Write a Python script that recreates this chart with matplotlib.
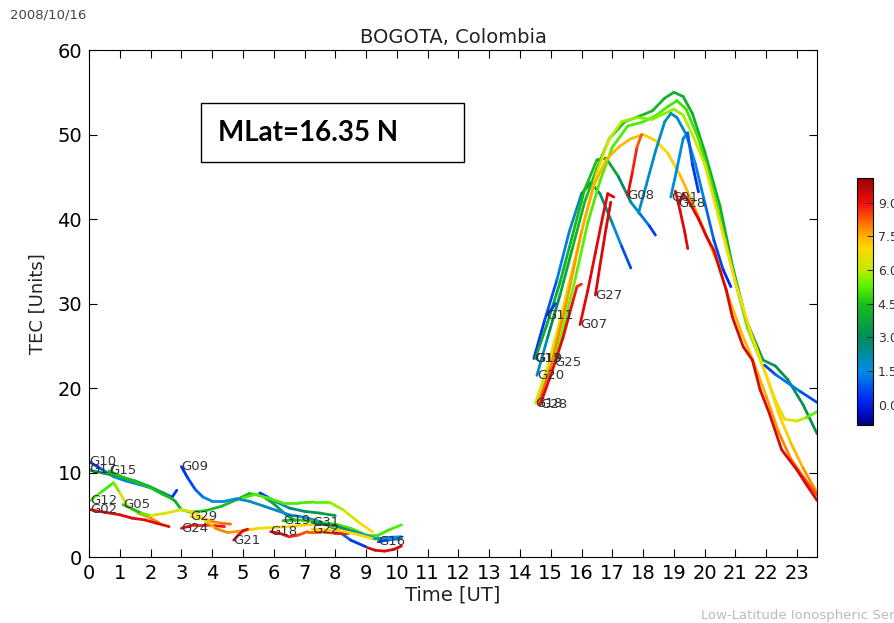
import numpy as np
import matplotlib
matplotlib.use("Agg")
import matplotlib.pyplot as plt
from matplotlib.collections import LineCollection
from matplotlib.colors import LinearSegmentedColormap, Normalize
from matplotlib.cm import ScalarMappable
from matplotlib.patches import Rectangle

# ---- texts / axes ----
date_text = "2008/10/16"
station = "BOGOTA, Colombia"
mlat_text = "MLat=16.35 N"
credit_text = "Low-Latitude Ionospheric Sensor Network (LISN)"
hour_ticks = list(range(24))
tec_ticks = [0, 10, 20, 30, 40, 50, 60]
cbar_ticks = [0.0, 1.5, 3.0, 4.5, 6.0, 7.5, 9.0]

# ---- satellite tracks: time [UT], TEC, colour value ----
prn_names = [
    # night
    "G10", "G17", "G15", "G12", "G02", "G05", "G09", "", "G24", "G29",
    "G21", "", "G18", "G19", "G31", "G22", "G16", "",
    # day
    "G13", "G19", "G20", "G25", "G18", "", "G08", "G07", "G27", "G28",
    "G11", "", "G01", "G28", "", "",
]
prn_hours = [
    [0.0, 0.4, 0.8, 1.2, 1.6, 2.0, 2.4, 2.7, 2.85],
    [0.0, 0.5, 1.0, 1.5, 2.0, 2.5, 2.8, 3.0, 3.3, 3.8, 4.3, 4.8, 5.2, 5.6, 6.0, 6.4, 6.7],
    [0.65, 1.0, 1.5, 2.0, 2.4, 2.7],
    [0.05, 0.4, 0.8, 1.0, 1.25, 1.6, 2.0, 2.3],
    [0.05, 0.5, 1.0, 1.4, 1.8, 2.2, 2.6],
    [1.1, 1.4, 1.7, 2.0, 2.5, 3.0, 3.4, 3.7, 4.0, 4.3, 4.6],
    [3.0, 3.2, 3.45, 3.7, 4.0, 4.4, 4.8, 5.2, 5.7, 6.1, 6.5, 7.0, 7.5, 8.0, 8.5, 9.0],
    [5.55, 5.8, 6.1, 6.5, 7.0, 7.5, 8.0],
    [3.0, 3.4, 3.8, 4.1, 4.4],
    [3.3, 3.7, 4.1, 4.5, 5.0, 5.5, 6.0, 6.5, 7.0, 7.5, 8.0, 8.5, 9.0, 9.4],
    [4.7, 4.85, 5.0, 5.15],
    [5.0, 5.4, 5.8, 6.3, 6.8, 7.3, 7.8, 8.25, 8.8, 9.2],
    [5.9, 6.2, 6.5, 6.8, 7.1, 7.5, 8.0, 8.4],
    [6.3, 6.7, 7.1, 7.5, 8.0, 8.5, 9.0, 9.4, 9.8, 10.15],
    [7.25, 7.6, 8.0, 8.4, 8.8, 9.2, 9.6, 10.15],
    [7.25, 7.7, 8.2, 8.7, 9.2],
    [9.4, 9.7, 10.15],
    [9.05, 9.3, 9.6, 9.9, 10.15],
    [14.45, 14.8, 15.2, 15.6, 16.0, 16.3, 16.6, 17.0, 17.3, 17.6],
    [14.5, 14.9, 15.3, 15.7, 16.1, 16.5, 16.8, 17.2, 17.6, 17.9, 18.2, 18.4],
    [14.55, 14.9, 15.3, 15.7, 16.1, 16.5, 16.9, 17.4, 17.9, 18.3, 18.7, 19.0, 19.3, 19.6, 20.0,
     20.5, 20.9, 21.35, 21.9, 22.3, 22.7, 23.2, 23.65],
    [15.1, 15.4, 15.8, 16.2, 16.6, 17.0, 17.5, 18.0, 18.4, 18.8, 19.1, 19.4, 19.8, 20.2, 20.6,
     21.0, 21.4, 21.9, 22.3, 22.6, 23.0, 23.3, 23.65],
    [14.5, 14.9, 15.3, 15.7, 16.1, 16.5, 16.9, 17.3, 17.8, 18.3, 18.7, 19.0, 19.3, 19.6, 20.0,
     20.5, 21.0, 21.5, 22.0, 22.4, 22.8, 23.2, 23.65],
    [14.6, 15.0, 15.5, 16.0, 16.4, 16.8, 17.2, 17.6, 18.0, 18.4, 18.8, 19.2, 19.6, 20.0, 20.4,
     20.8, 21.2, 21.6, 22.0, 22.4, 22.8, 23.2, 23.65],
    [17.5, 17.65, 17.8, 17.95],
    [15.95, 16.2, 16.45, 16.7, 16.85, 17.05],
    [16.45, 16.6, 16.8, 16.95],
    [14.65, 15.0, 15.4, 15.7, 15.85, 16.0],
    [14.85, 15.0, 15.15],
    [17.85, 18.1, 18.4, 18.7, 18.9, 19.1, 19.4, 19.7, 20.0, 20.3, 20.6, 20.85],
    [18.9, 19.1, 19.3, 19.45, 19.6, 19.8],
    [19.15, 19.3, 19.5, 19.8, 20.05, 20.3, 20.7, 20.9, 21.25, 21.55, 21.8, 22.1, 22.5, 23.0, 23.3, 23.65],
    [19.05, 19.2, 19.35, 19.45],
    [21.95, 22.3, 22.7, 23.1, 23.65],
]
prn_tec = [
    [11.3, 10.4, 9.5, 9.0, 8.6, 8.2, 7.6, 7.1, 7.9],
    [10.3, 9.9, 9.5, 9.0, 8.3, 7.4, 6.6, 5.6, 5.3, 5.5, 6.0, 6.8, 7.5, 7.3, 6.3, 5.0, 4.3],
    [10.2, 9.6, 8.9, 8.2, 7.4, 6.9],
    [6.7, 7.7, 8.8, 7.6, 6.0, 5.2, 4.6, 4.0],
    [5.6, 5.3, 5.0, 4.6, 4.4, 4.0, 3.6],
    [6.2, 5.7, 5.2, 4.9, 5.2, 5.6, 5.3, 4.6, 4.2, 4.0, 3.9],
    [10.7, 9.4, 8.0, 7.1, 6.6, 6.6, 6.9, 6.6, 6.0, 5.5, 5.0, 4.7, 4.2, 3.3, 2.0, 1.2],
    [7.6, 7.1, 6.5, 5.8, 5.4, 5.2, 4.9],
    [3.4, 3.8, 3.8, 3.7, 3.6],
    [4.8, 4.6, 3.4, 2.9, 3.1, 3.4, 3.5, 3.6, 3.8, 3.9, 3.6, 3.0, 2.4, 2.0],
    [2.0, 2.6, 3.1, 3.3],
    [7.0, 7.4, 7.0, 6.4, 6.4, 6.5, 6.5, 5.6, 4.0, 3.0],
    [3.0, 2.8, 2.4, 2.6, 3.0, 3.0, 2.8, 2.8],
    [4.3, 4.4, 4.3, 4.1, 3.9, 3.4, 2.6, 2.6, 3.3, 3.8],
    [4.1, 3.9, 3.7, 3.2, 2.8, 2.3, 2.3, 2.4],
    [3.3, 3.2, 3.1, 2.7, 2.2],
    [1.8, 2.0, 2.2],
    [1.1, 0.8, 0.7, 0.9, 1.3],
    [23.5, 28.0, 32.8, 38.5, 43.0, 44.3, 43.0, 39.5, 36.8, 34.2],
    [23.5, 27.8, 32.5, 38.0, 43.5, 47.0, 47.2, 45.0, 42.0, 40.6, 39.2, 38.1],
    [21.5, 26.0, 31.0, 36.5, 42.0, 46.0, 49.5, 51.5, 52.2, 52.8, 54.3, 55.0, 54.5, 52.5, 48.0,
     41.5, 34.5, 28.0, 23.3, 22.6, 21.0, 18.0, 14.6],
    [23.0, 27.0, 33.0, 39.5, 44.5, 48.5, 51.0, 51.5, 52.2, 53.3, 54.0, 53.0, 49.5, 44.5, 38.5,
     32.5, 27.0, 22.5, 18.5, 16.3, 16.1, 16.5, 17.2],
    [18.2, 22.5, 28.0, 34.0, 40.0, 45.5, 49.5, 51.5, 52.0, 51.8, 52.5, 53.0, 52.3, 50.0, 46.5,
     39.5, 32.5, 26.5, 21.5, 17.0, 13.5, 10.5, 7.6],
    [18.2, 22.5, 30.0, 38.5, 44.0, 47.0, 48.5, 49.5, 50.0, 49.3, 47.8, 45.2, 42.0, 38.5, 35.0,
     30.5, 26.5, 23.0, 19.0, 14.8, 11.6, 9.5, 7.3],
    [42.8, 45.5, 48.5, 50.0],
    [27.5, 31.5, 36.0, 40.5, 43.0, 42.6],
    [31.0, 34.5, 39.0, 42.0],
    [18.0, 21.5, 26.0, 30.0, 32.0, 32.3],
    [28.6, 29.2, 30.0],
    [40.7, 44.0, 48.0, 51.5, 52.5, 52.0, 50.0, 46.5, 42.0, 37.5, 34.0, 32.0],
    [42.6, 46.0, 49.5, 50.2, 46.5, 43.2],
    [41.8, 43.0, 42.0, 40.0, 38.0, 36.3, 31.6, 28.4, 24.9, 23.3, 19.8, 17.0, 12.7, 10.3, 8.6, 6.7],
    [43.3, 41.0, 38.5, 36.5],
    [22.7, 21.6, 20.6, 19.6, 18.3],
]
prn_value = [
    [0.2, 0.7, 1.2, 1.6, 1.8, 1.6, 1.2, 0.6, 0.1],
    [3.8, 3.8, 3.7, 3.6, 3.6, 3.6, 3.8, 4.2, 4.6, 4.6, 4.4, 4.2, 4.2, 4.0, 3.8, 3.6, 3.6],
    [4.6, 4.6, 4.5, 4.5, 4.4, 4.4],
    [5.4, 5.2, 5.0, 6.0, 6.8, 7.6, 7.8, 8.0],
    [9.2, 9.2, 9.2, 9.2, 9.2, 9.2, 9.2],
    [4.8, 4.6, 4.4, 6.2, 6.4, 6.4, 6.6, 7.2, 7.8, 8.0, 8.2],
    [0.1, 0.4, 0.8, 1.3, 1.6, 1.6, 1.6, 1.8, 2.0, 1.8, 1.5, 1.6, 1.8, 1.3, 0.6, 0.1],
    [0.1, 0.8, 1.6, 2.4, 3.0, 3.4, 3.6],
    [9.2, 9.0, 8.6, 8.8, 9.0],
    [6.5, 7.0, 7.8, 8.0, 7.5, 6.8, 6.8, 6.8, 7.0, 7.2, 7.2, 7.0, 6.8, 6.5],
    [9.2, 9.2, 9.2, 9.2],
    [5.2, 5.2, 5.2, 5.2, 5.2, 5.2, 5.4, 6.0, 6.8, 7.2],
    [9.2, 9.2, 9.0, 8.6, 8.2, 8.4, 8.8, 9.0],
    [4.4, 4.6, 4.8, 5.0, 5.0, 5.2, 5.0, 5.0, 5.2, 5.2],
    [3.0, 3.0, 2.8, 2.4, 2.0, 1.6, 1.5, 1.5],
    [7.0, 7.2, 7.0, 6.8, 6.5],
    [0.2, 1.0, 1.5],
    [9.3, 9.3, 9.3, 9.3, 9.3],
    [0.2, 0.5, 1.0, 1.6, 2.6, 3.6, 3.0, 2.2, 1.2, 0.2],
    [3.6, 3.8, 4.0, 4.2, 4.4, 4.5, 4.2, 3.2, 2.4, 1.6, 0.8, 0.2],
    [1.5, 2.5, 3.5, 4.0, 4.3, 4.5, 4.5, 4.5, 4.5, 4.3, 4.0, 4.0, 4.0, 4.0, 4.0,
     4.0, 4.0, 3.8, 3.5, 3.3, 3.2, 3.2, 3.2],
    [5.5, 5.5, 5.3, 5.2, 5.2, 5.2, 5.2, 5.2, 5.2, 5.2, 5.0, 5.0, 5.0, 5.0, 5.0,
     5.0, 5.2, 5.6, 6.2, 6.8, 6.6, 5.6, 5.0],
    [6.0, 6.3, 6.6, 6.8, 6.8, 6.6, 6.2, 5.8, 5.6, 5.6, 5.6, 5.6, 5.8, 6.0, 6.4,
     6.8, 6.9, 7.0, 7.0, 7.0, 7.2, 7.6, 8.0],
    [8.3, 8.0, 7.8, 7.6, 7.5, 7.4, 7.4, 7.4, 7.3, 7.0, 7.0, 7.2, 7.6, 7.8, 7.6,
     7.4, 7.4, 7.4, 7.6, 7.8, 8.0, 8.2, 8.6],
    [9.2, 9.0, 8.6, 8.0],
    [9.2, 9.2, 9.2, 9.2, 9.2, 9.2],
    [9.3, 9.3, 9.3, 9.3],
    [9.2, 9.2, 9.2, 9.0, 8.8, 8.6],
    [0.2, 0.4, 0.6],
    [1.8, 1.8, 1.8, 1.9, 2.0, 2.0, 1.8, 1.5, 1.2, 0.8, 0.4, 0.1],
    [1.8, 1.6, 1.4, 1.2, 0.6, 0.1],
    [9.3, 9.3, 9.3, 9.3, 9.3, 9.3, 9.3, 9.3, 9.3, 9.3, 9.3, 9.3, 9.3, 9.3, 9.3, 9.3],
    [9.2, 9.2, 9.2, 9.2],
    [0.2, 1.0, 1.4, 1.2, 0.3],
]

# colour scale
vmin, vmax = -0.9, 10.1
cbar_nodes = [-0.9, 0.0, 1.5, 3.0, 4.5, 5.3, 6.0, 7.0, 7.5, 8.3, 9.0, 10.1]
cbar_colors = [(0.0, 0.0, 0.5), (0.0, 0.1, 0.95), (0.0, 0.55, 0.9), (0.0, 0.55, 0.35),
               (0.1, 0.75, 0.1), (0.35, 0.95, 0.0), (0.75, 0.92, 0.0), (1.0, 0.85, 0.0),
               (1.0, 0.7, 0.0), (1.0, 0.35, 0.0), (0.95, 0.05, 0.05), (0.6, 0.0, 0.0)]
cmap = LinearSegmentedColormap.from_list(
    "lisn", [((v - vmin) / (vmax - vmin), c) for v, c in zip(cbar_nodes, cbar_colors)])
norm = Normalize(vmin=vmin, vmax=vmax)

fig = plt.figure(figsize=(8.94, 6.23), dpi=100)
ax = fig.add_axes([0.0996, 0.1059, 0.8143, 0.8138])

for name, hrs, tec, val in zip(prn_names, prn_hours, prn_tec, prn_value):
    pts = np.column_stack([hrs, tec])
    segs = np.stack([pts[:-1], pts[1:]], axis=1)
    v = np.asarray(val, dtype=float)
    lc = LineCollection(segs, cmap=cmap, norm=norm, linewidths=2.0,
                        capstyle="round", joinstyle="round", zorder=2)
    lc.set_array((v[:-1] + v[1:]) / 2)
    ax.add_collection(lc)
    if name:
        ax.text(hrs[0], tec[0], name, fontsize=9.5, color="#333333",
                ha="left", va="center", zorder=3)

ax.set_xlim(0, 23.65)
ax.set_ylim(0, 60)
ax.set_xticks(hour_ticks)
ax.set_yticks(tec_ticks)
ax.tick_params(direction="in", top=True, right=True, length=6, labelsize=14, pad=5)
ax.set_title(station, fontsize=14, pad=5, color="#222222")
ax.set_xlabel("Time [UT]", fontsize=14, labelpad=2, color="#222222")
ax.set_ylabel("TEC [Units]", fontsize=13, labelpad=8, color="#222222")

# colour bar (labels run off the right edge, as in the original)
cax = fig.add_axes([857 / 894, 1 - 425 / 623, 16 / 894, 247 / 623])
cb = fig.colorbar(ScalarMappable(norm=norm, cmap=cmap), cax=cax, ticks=cbar_ticks)
cb.ax.set_yticklabels(["%.1f" % t for t in cbar_ticks])
cax.tick_params(labelsize=9, direction="in", length=4, colors="#333333")

# MLat box
fig.patches.append(Rectangle((201 / 894, 1 - 162 / 623), 263 / 894, 59 / 623,
                             transform=fig.transFigure, facecolor="white",
                             edgecolor="black", linewidth=1.0, zorder=5))
fig.text(218 / 894, 1 - 133 / 623, mlat_text, fontsize=20, fontweight="bold",
         family="Lato", va="center", zorder=6)

fig.text(10 / 894, 1 - 15 / 623, date_text, fontsize=9.5, color="#444444", va="center")
fig.text(701 / 894, 1 - 615 / 623, credit_text, fontsize=9.5, color="#bbbbbb", va="center")

fig.savefig("out.png", dpi=100)
